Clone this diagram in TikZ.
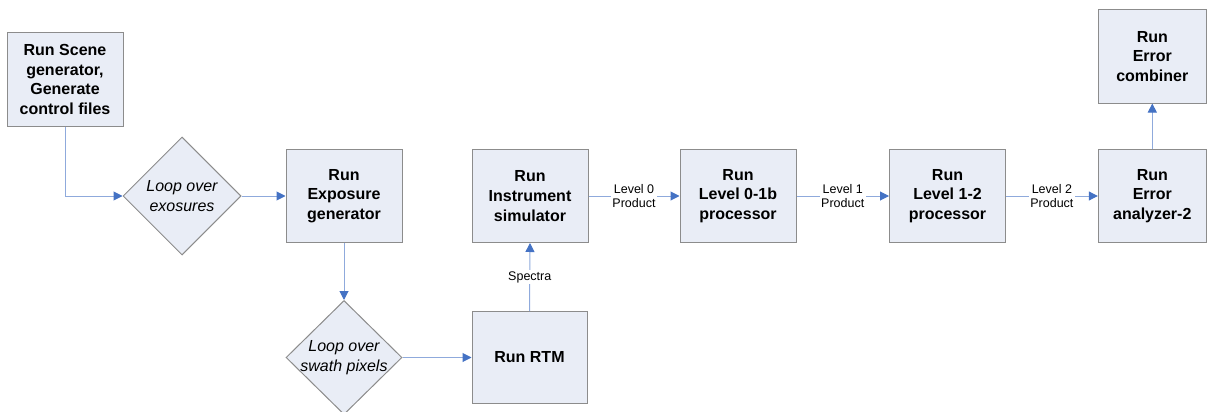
\documentclass[tikz,border=0pt]{standalone}
\usepackage{fontspec}
\setmainfont{Liberation Sans}
\usetikzlibrary{arrows.meta,shapes.geometric}
\definecolor{boxfill}{HTML}{E9EDF6}
\definecolor{boxline}{HTML}{8C8C8C}
\definecolor{arrline}{HTML}{8FAADC}
\definecolor{arrhead}{HTML}{4472C4}
\tikzset{
  stepbox/.style={draw=boxline, fill=boxfill, line width=1pt, minimum width=116pt, minimum height=93pt,
    inner sep=0pt, align=center, font=\fontsize{16}{19.8}\selectfont\bfseries},
  decision/.style={draw=boxline, fill=boxfill, line width=1pt, diamond, minimum width=118pt, minimum height=118pt, inner sep=0pt},
  dectext/.style={align=center, font=\fontsize{16}{19.5}\selectfont\itshape, inner sep=0pt},
  arr/.style={draw=arrline, line width=1pt, -{Triangle[length=9pt,width=9pt,color=arrhead]}},
  lbl/.style={fill=white, inner sep=1.5pt, align=center, font=\fontsize{12.5}{14}\selectfont},
}
\begin{document}
\begin{tikzpicture}[x=1pt,y=-1pt]
\useasboundingbox (0,0) rectangle (1207,412);
\clip (0,0) rectangle (1207,412);
\node[stepbox] (scene) at (65,79.5) {Run Scene\\generator,\\Generate\\control files};
\node[decision] (d1) at (182,196) {};
\node[dectext] at (d1.center) {Loop over\\exosures};
\node[stepbox] (expo) at (344,196) {Run\\Exposure\\generator};
\node[decision, minimum width=116pt, minimum height=114pt] (d2) at (344,357.5) {};
\node[dectext] at (d2.center) {Loop over\\swath pixels};
\node[stepbox, minimum width=115pt, minimum height=92pt] (rtm) at (529.5,357.5) {Run RTM};
\node[stepbox] (instr) at (530,196) {Run\\Instrument\\simulator};
\node[stepbox] (l01) at (738,196) {Run\\Level 0-1b\\processor};
\node[stepbox] (l12) at (947.5,196) {Run\\Level 1-2\\processor};
\node[stepbox, minimum width=108pt] (anal) at (1152.3,196) {Run\\Error\\analyzer-2};
\node[stepbox, minimum width=108pt] (comb) at (1152.3,56.5) {Run\\Error\\combiner};

\draw[arr] (scene.south) |- (d1.west);
\draw[arr] (d1.east) -- (expo.west);
\draw[arr] (expo.south) -- (d2.north);
\draw[arr] (d2.east) -- (rtm.west);
\draw[arr] (rtm.north) -- node[lbl] {Spectra} (instr.south);
\draw[arr] (instr.east) -- node[lbl] {Level 0\\Product} (l01.west);
\draw[arr] (l01.east) -- node[lbl] {Level 1\\Product} (l12.west);
\draw[arr] (l12.east) -- node[lbl] {Level 2\\Product} (anal.west);
\draw[arr] (anal.north) -- (comb.south);
\end{tikzpicture}
\end{document}
